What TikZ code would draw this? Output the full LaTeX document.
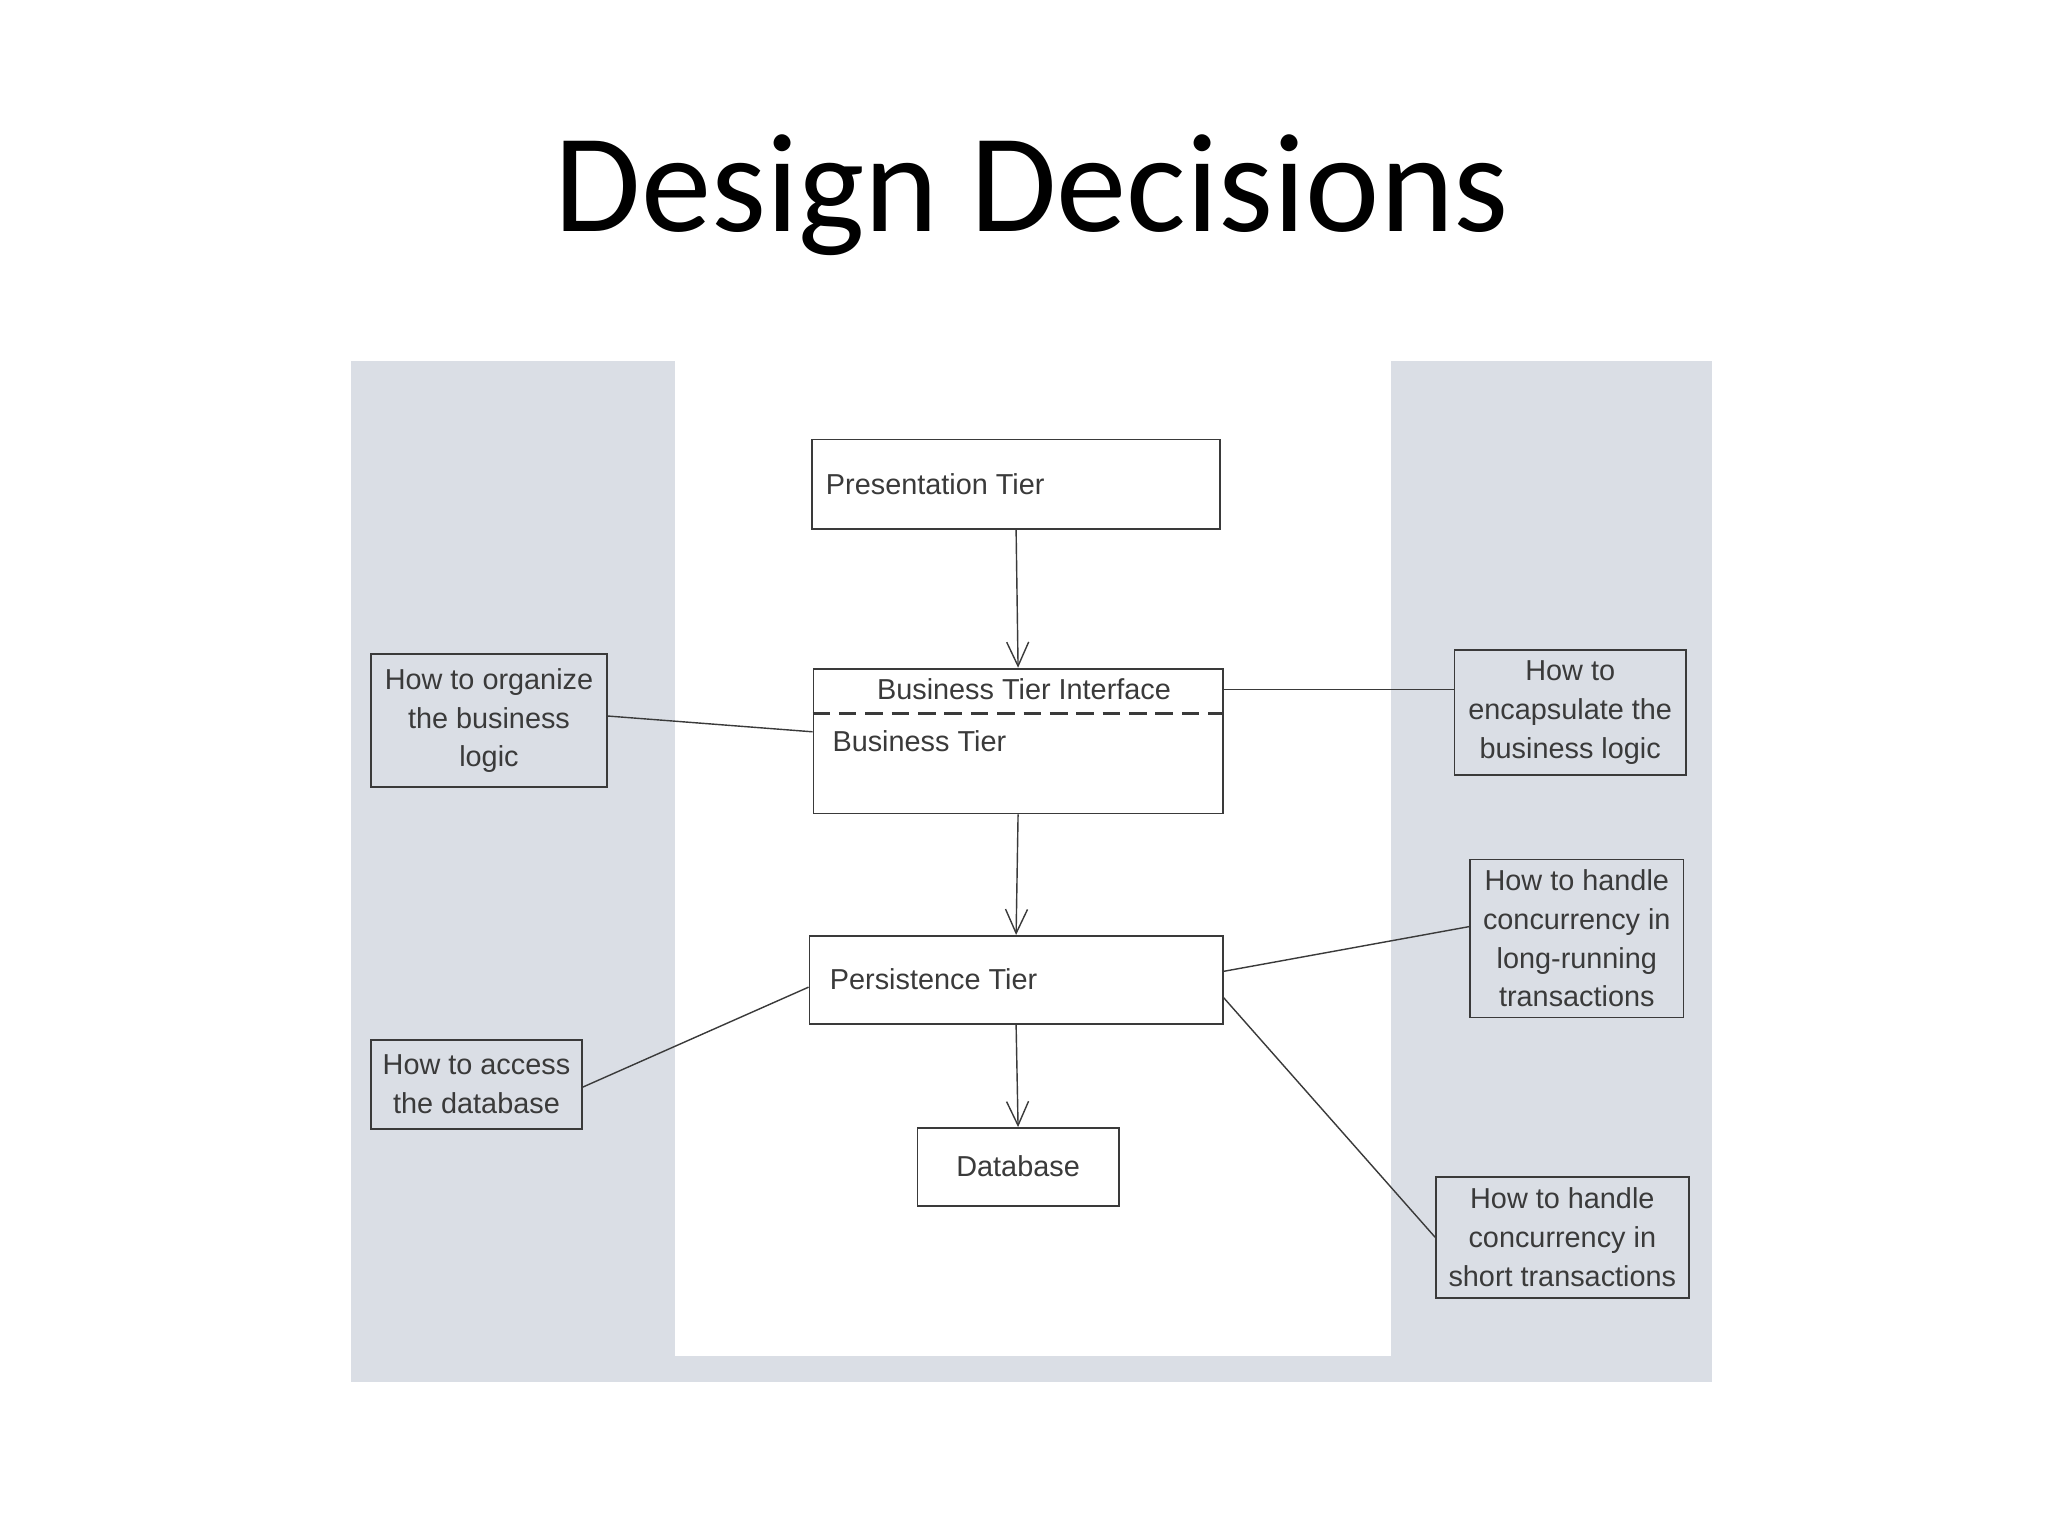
\documentclass[tikz,border=0pt]{standalone}
\usepackage{fontspec}
\setmainfont{Liberation Sans}
\newfontfamily\titlefont{Carlito}
\usetikzlibrary{arrows.meta}
\definecolor{panel}{HTML}{DADEE5}
\definecolor{ink}{HTML}{3A3A3A}
\begin{document}
\begin{tikzpicture}[x=0.01316cm,y=-0.01316cm,
  box/.style={draw=ink,line width=0.5pt,inner sep=0pt},
  txt/.style={text=ink,font=\fontsize{8.2pt}{11pt}\selectfont,inner sep=0pt,align=center},
  link/.style={draw=ink,line width=0.4pt},
  arr/.style={draw=ink,line width=0.4pt,-{Straight Barb[length=2.4mm,width=2.2mm]}}]
\useasboundingbox (0,0) rectangle (1556,1167);
\fill[white] (0,0) rectangle (1556,1167);
\fill[panel] (267,274) rectangle (1301,1050);
\fill[white] (513,274) rectangle (1057,1030);
\node[font=\titlefont\fontsize{40pt}{44pt}\selectfont] (title) at (784,148) {Design Decisions};
% main boxes
\node[box,minimum width={310*0.01316cm},minimum height={68*0.01316cm}] (pres) at (772,368) {};
\node[box,minimum width={311*0.01316cm},minimum height={110*0.01316cm}] (bus) at (773.5,563) {};
\node[box,minimum width={314*0.01316cm},minimum height={67*0.01316cm}] (pers) at (772,744.5) {};
\node[box,minimum width={153*0.01316cm},minimum height={59*0.01316cm}] (db) at (773.5,886.5) {};
\draw[ink,dashed,line width=0.8pt,dash pattern=on 5pt off 2.5pt] (bus.west|-0,542) -- (bus.east|-0,542);
\node[txt,anchor=west] (ptxt) at (627,368) {Presentation Tier};
\node[txt] (bitxt) at (778,524) {Business Tier Interface};
\node[txt,anchor=west] (btxt) at (632,563) {Business Tier};
\node[txt,anchor=west] (pertxt) at (630,744) {Persistence Tier};
\node[txt] (dbtxt) at (773.5,886) {Database};
% side boxes
\node[box,minimum width={179*0.01316cm},minimum height={101*0.01316cm},txt] (l1) at (371.5,547.5) {How to organize\\the business\\logic};
\node[box,minimum width={160*0.01316cm},minimum height={68*0.01316cm},txt] (l2) at (362,824) {How to access\\the database};
\node[box,minimum width={176*0.01316cm},minimum height={95*0.01316cm},txt] (r1) at (1193,541.5) {How to\\encapsulate the\\business logic};
\node[box,minimum width={162*0.01316cm},minimum height={120*0.01316cm},txt] (r2) at (1198,713) {How to handle\\concurrency in\\long-running\\transactions};
\node[box,minimum width={192*0.01316cm},minimum height={92*0.01316cm},txt] (r3) at (1187,940) {How to handle\\concurrency in\\short transactions};
% arrows
\draw[arr] (pres.south) -- (bus.north);
\draw[arr] (bus.south) -- (pers.north);
\draw[arr] (pers.south) -- (db.north);
% links
\draw[link] (l1.east|-0,544) -- (bus.west|-0,556);
\draw[link] (bus.east|-0,524) -- (r1.west|-0,524);
\draw[link] (pers.east|-0,738) -- (r2.west|-0,704);
\draw[link] (pers.east|-0,758) -- (r3.west|-0,940);
\draw[link] (l2.east|-0,826) -- (pers.west|-0,750);
\end{tikzpicture}
\end{document}
